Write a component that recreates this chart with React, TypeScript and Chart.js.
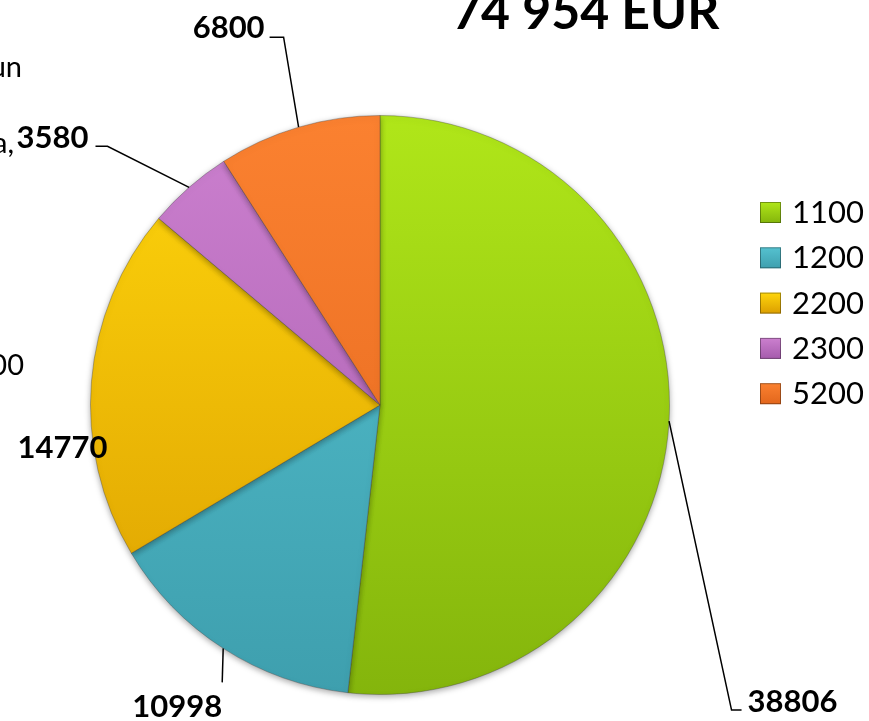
import React, { useEffect, useRef } from "react";
import { Chart, registerables } from "chart.js";

Chart.register(...registerables);

const categories = ["1100", "1200", "2200", "2300", "5200"];
const values = [38806, 10998, 14770, 3580, 6800];
const titleText = "74 954 EUR";
const colorsLight = ["#B0E619", "#55C2D0", "#FFD60C", "#CC80CF", "#FB8130"];
const colorsDark = ["#84B50C", "#3E9FAE", "#DB9E00", "#A55BAC", "#E2661C"];
const strayTexts = ["un", "a,", "00"];

const FONT = "Lato, 'Open Sans', sans-serif";

// label placement relative to the arc's outer mid-point
const labelLayout = [
  { path: [[62.5, 289], [72.5, 289]], text: [78.5, 291], align: "left" },
  { path: [[-1, 34]], text: [-1, 69], align: "right" },
  { path: [], text: [16, 77], align: "right" },
  { path: [[-81.6, -41], [-93.6, -41]], text: [-100.6, -39], align: "right" },
  { path: [[-15, -90], [-29, -90]], text: [-34, -89], align: "right" },
];
const strayLayout = [
  [22, 77],
  [14, 153],
  [24, 375],
];

function sliceGradient(chart: any, i: number) {
  const area = chart.chartArea;
  if (!area) return colorsLight[i];
  const g = chart.ctx.createLinearGradient(0, area.top, 0, area.bottom);
  g.addColorStop(0, colorsLight[i]);
  g.addColorStop(1, colorsDark[i]);
  return g;
}

const decorPlugin = {
  id: "decor",
  beforeDatasetsDraw(chart: any) {
    const ctx = chart.ctx;
    ctx.save();
    ctx.shadowColor = "rgba(0,0,0,0.35)";
    ctx.shadowBlur = 6;
    ctx.shadowOffsetY = 2;
  },
  afterDatasetsDraw(chart: any) {
    const ctx = chart.ctx;
    ctx.restore();
    const meta = chart.getDatasetMeta(0);
    ctx.save();
    // leader lines and value labels
    meta.data.forEach((arc: any, i: number) => {
      const p = arc.getProps(["x", "y", "startAngle", "endAngle", "outerRadius"], true);
      const mid = (p.startAngle + p.endAngle) / 2;
      const ax = p.x + Math.cos(mid) * p.outerRadius;
      const ay = p.y + Math.sin(mid) * p.outerRadius;
      const lay = labelLayout[i];
      if (lay.path.length) {
        ctx.beginPath();
        ctx.moveTo(ax, ay);
        lay.path.forEach((pt: number[]) => ctx.lineTo(ax + pt[0], ay + pt[1]));
        ctx.strokeStyle = "#000";
        ctx.lineWidth = 1.5;
        ctx.stroke();
      }
      ctx.font = `bold 31px ${FONT}`;
      ctx.fillStyle = "#000";
      ctx.textAlign = lay.align;
      ctx.textBaseline = "alphabetic";
      ctx.fillText(String(values[i]), ax + lay.text[0], ay + lay.text[1]);
    });
    // legend
    const lx = 760;
    const ly0 = 202;
    const step = 45.3;
    categories.forEach((c, i) => {
      const y = ly0 + i * step;
      const g = ctx.createLinearGradient(0, y, 0, y + 21);
      g.addColorStop(0, colorsLight[i]);
      g.addColorStop(1, colorsDark[i]);
      ctx.fillStyle = g;
      ctx.fillRect(lx, y, 21, 21);
      ctx.strokeStyle = "rgba(0,0,0,0.35)";
      ctx.lineWidth = 1;
      ctx.strokeRect(lx + 0.5, y + 0.5, 20, 20);
      ctx.fillStyle = "#000";
      ctx.font = `31px ${FONT}`;
      ctx.textAlign = "left";
      ctx.fillText(c, 792, y + 21);
    });
    // title
    ctx.font = `bold 50px ${FONT}`;
    ctx.textAlign = "left";
    ctx.fillText(titleText, 452, 29);
    // cut-off fragments at left edge
    ctx.font = `29px ${FONT}`;
    ctx.textAlign = "right";
    strayTexts.forEach((t, i) => ctx.fillText(t, strayLayout[i][0], strayLayout[i][1]));
    ctx.restore();
  },
};

export default function App() {
  const ref = useRef<HTMLCanvasElement>(null);
  useEffect(() => {
    if (!ref.current) return;
    const chart = new Chart(ref.current, {
      type: "pie",
      data: {
        labels: categories,
        datasets: [
          {
            data: values,
            backgroundColor: (c: any) => sliceGradient(c.chart, c.dataIndex),
            borderColor: "rgba(60,60,60,0.35)",
            borderWidth: 1,
          },
        ],
      },
      options: {
        responsive: false,
        animation: false,
        layout: { padding: { left: 90, right: 199, top: 115, bottom: 26 } },
        plugins: {
          legend: { display: false },
          tooltip: { enabled: false },
          title: { display: false },
        },
      },
      plugins: [decorPlugin],
    } as any);
    return () => chart.destroy();
  }, []);
  return (
    <div style={{ position: "absolute", left: 0, top: 0, width: 869, height: 721, background: "#fff" }}>
      <canvas ref={ref} width={869} height={721} />
    </div>
  );
}
